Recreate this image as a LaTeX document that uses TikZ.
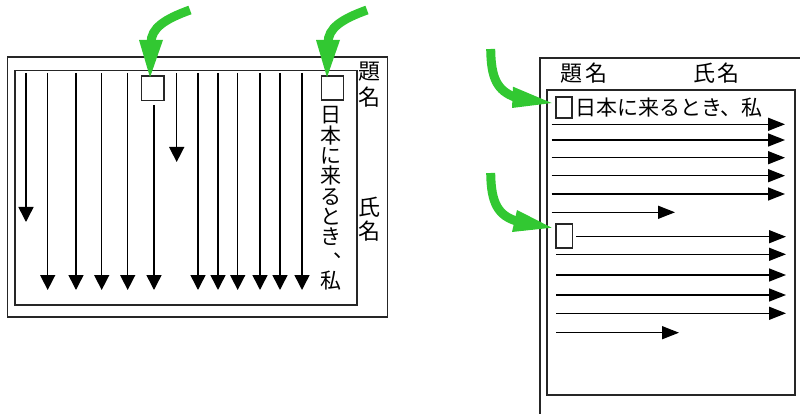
\documentclass[tikz,border=0pt]{standalone}
\usepackage{fontspec}
\setmainfont{Noto Sans CJK JP}
\usetikzlibrary{arrows.meta}
\definecolor{grn}{RGB}{50,200,50}
\begin{document}
\begin{tikzpicture}[x=1pt,y=-1pt,
  frame/.style={draw=black!85,line width=1.6pt},
  flow/.style={draw=black,line width=1.5pt,-{Triangle[length=15pt,width=15pt]}},
  flowr/.style={draw=black,line width=1.5pt,-{Triangle[length=17pt,width=13pt]}},
  slot/.style={draw=black!85,line width=1.5pt,inner sep=0},
  lab/.style={inner sep=0,anchor=base,font=\fontsize{22}{22}\selectfont},
  txt/.style={inner sep=0,anchor=base,font=\fontsize{21}{21}\selectfont},
  gshaft/.style={draw=grn,line width=9pt,line cap=butt},
  ghead/.style={fill=grn,draw=none}
]
\useasboundingbox (0,0) rectangle (800,414);
\begin{scope}
\clip (0,0) rectangle (800,414);

% ---------- left diagram ----------
\draw[frame] (7.5,57.3) rectangle (387.3,316.7);
\draw[frame] (15,70.7) rectangle (356.7,305);

\node[lab] (ldai) at (369,80) {題};
\node[lab] (lmei1) at (369,106) {名};
\node[lab] (lshi) at (369,215) {氏};
\node[lab] (lmei2) at (369,239.5) {名};

\node[slot,minimum width=22.3pt,minimum height=24.7pt] (sa) at (152.85,88.35) {};
\node[slot,minimum width=21.6pt,minimum height=24pt] (sb) at (332.5,88) {};

% vertical text
\foreach \c [count=\k from 0] in {日,本,に,来,る,と,き}
  \node[txt] (v\k) at (331,{123+20.3*\k}) {\c};
\node[txt,anchor=base west,text height=5pt,text depth=0pt,text width=8pt] (vcomma) at (333,257.5) {、};
\node[txt] (vwatashi) at (331,288) {私};

% vertical arrows
\foreach \x/\t [count=\i] in {26/222,47.7/290,76/290,101.7/290,127.7/290,176.7/162,198/290,218/290,237.7/290,260/290,280/290,302/290}{
  \coordinate (ls\i) at (\x,73);
  \coordinate (le\i) at (\x,\t);
  \draw[flow] (ls\i) -- (le\i);
}
\coordinate (lsa) at (154,105);
\coordinate (lea) at (154,290);
\draw[flow] (lsa) -- (lea);

% ---------- right diagram ----------
\draw[frame] (540,58.3) rectangle (830,440);
\draw[frame] (546.7,90) rectangle (795,395);

\node[lab] (rdai) at (571,81.4) {題};
\node[lab] (rmei1) at (596,81.4) {名};
\node[lab] (rshi) at (704,81.4) {氏};
\node[lab] (rmei2) at (728,81.4) {名};

\node[slot,minimum width=16pt,minimum height=21pt] (sc) at (564,107.5) {};
\node[txt,anchor=base west] (rtext) at (575,115.5) {日本に来るとき、私};
\node[slot,minimum width=16.7pt,minimum height=24pt] (sd) at (564.35,236) {};

\foreach \y [count=\i] in {124.3,140,157.7,175.7,194}{
  \coordinate (ra\i) at (551.7,\y);
  \coordinate (rb\i) at (785,\y);
  \draw[flowr] (ra\i) -- (rb\i);
}
\coordinate (ra6) at (551.7,212.3);
\coordinate (rb6) at (675,212.3);
\draw[flowr] (ra6) -- (rb6);

\coordinate (rc0) at (576,236.7);
\coordinate (rd0) at (786,236.7);
\draw[flowr] (rc0) -- (rd0);
\foreach \y [count=\i] in {254.3,275,295,313.3}{
  \coordinate (rc\i) at (556,\y);
  \coordinate (rd\i) at (786,\y);
  \draw[flowr] (rc\i) -- (rd\i);
}
\coordinate (rc5) at (556,332.7);
\coordinate (rd5) at (679,332.7);
\draw[flowr] (rc5) -- (rd5);

% ---------- green arrows ----------
\draw[gshaft] (190,10) .. controls (165,19) and (151,28) .. (151,43);
\fill[ghead] (139,40) -- (163,40) -- (150,77.3) -- cycle;
\draw[gshaft] (367,10) .. controls (342,19) and (328,28) .. (328,43);
\fill[ghead] (316,40) -- (340,40) -- (327,77.3) -- cycle;

\draw[gshaft] (490.7,49) .. controls (491,78) and (497,91) .. (516,97.5);
\fill[ghead] (513,86.7) -- (512,108) -- (551.7,103) -- cycle;
\draw[gshaft] (490.7,173) .. controls (491,203) and (498,216) .. (518,221.5);
\fill[ghead] (517,210) -- (512,232) -- (551.7,227.7) -- cycle;
\end{scope}
\end{tikzpicture}
\end{document}
